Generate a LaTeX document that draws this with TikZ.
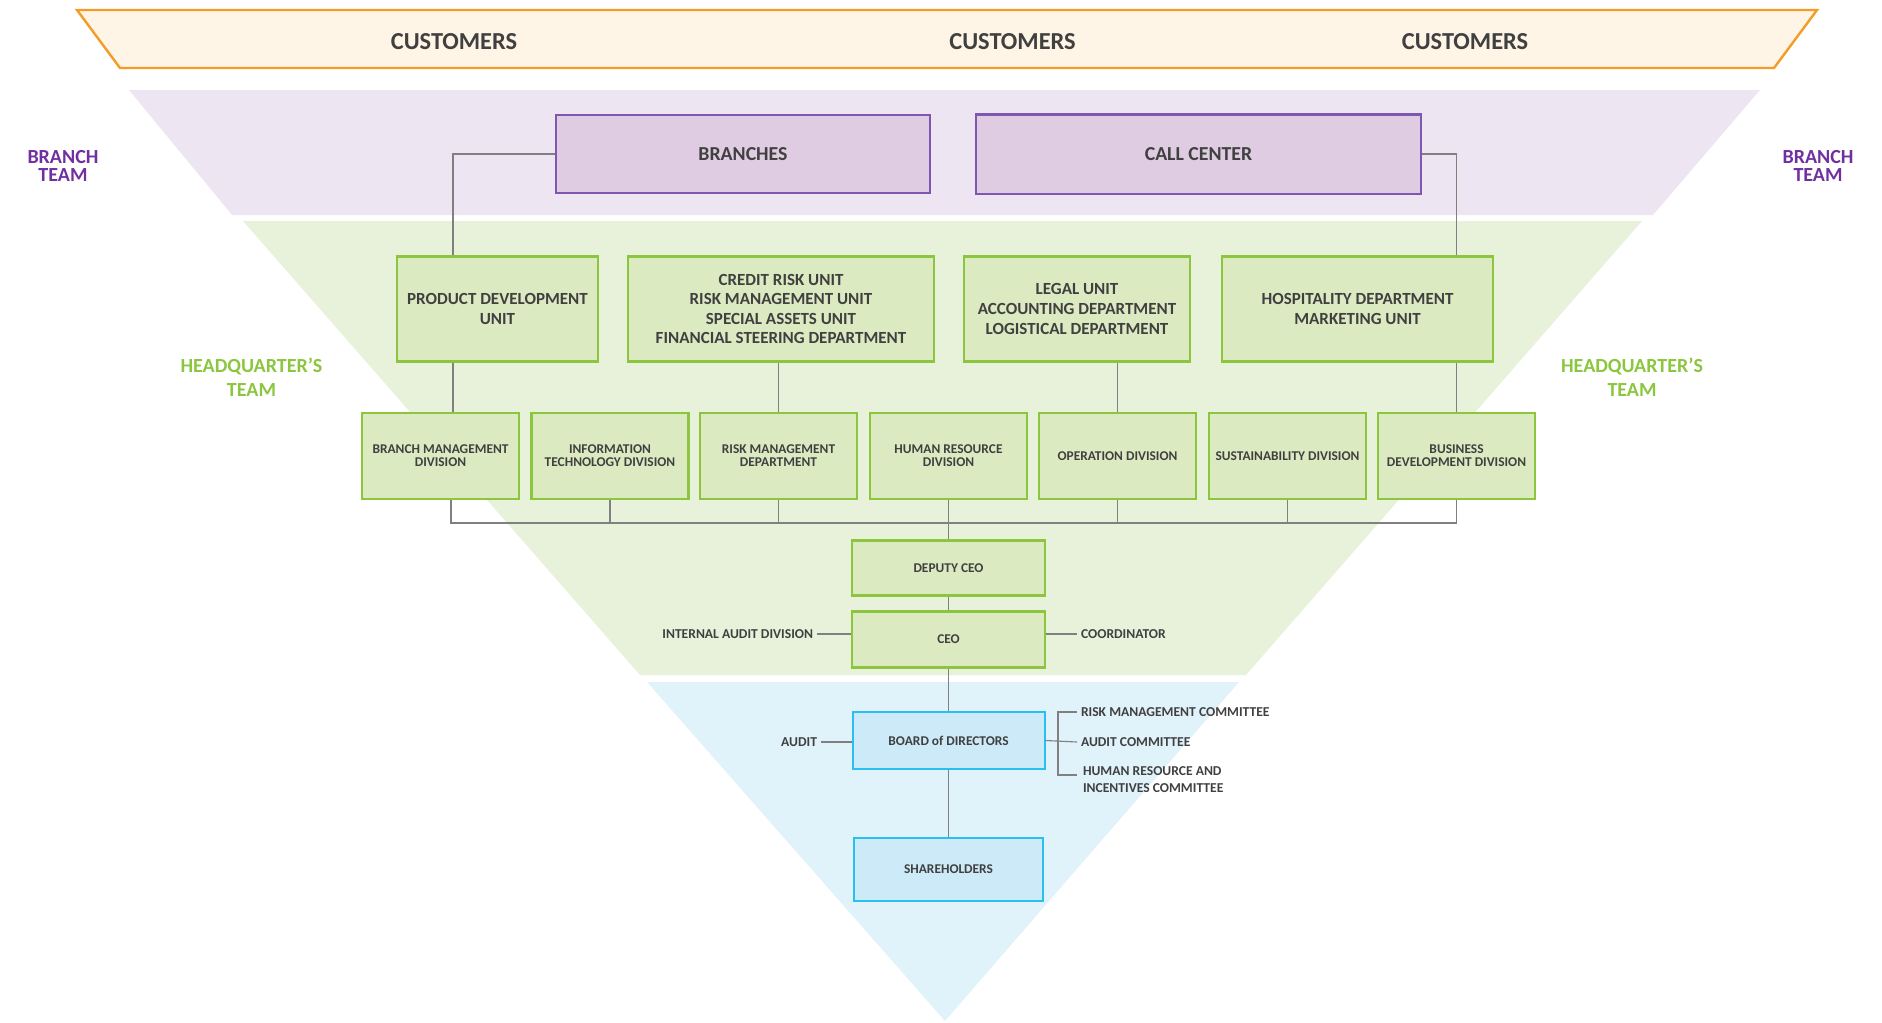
\documentclass[tikz,border=0pt]{standalone}
\usepackage{fontspec}
\setmainfont{Carlito}
\usetikzlibrary{calc}
\definecolor{oline}{HTML}{F39C28}
\definecolor{ofill}{HTML}{FEF5E7}
\definecolor{pband}{HTML}{EDE6F2}
\definecolor{pfill}{HTML}{E0CCE2}
\definecolor{pline}{HTML}{7E57B0}
\definecolor{ptext}{HTML}{7030A0}
\definecolor{gband}{HTML}{E8F2DB}
\definecolor{gfill}{HTML}{DCEAC2}
\definecolor{gline}{HTML}{8CC63E}
\definecolor{gtext}{HTML}{8CC63F}
\definecolor{bband}{HTML}{E0F2FA}
\definecolor{bfill}{HTML}{CDEAF9}
\definecolor{bline}{HTML}{27C0EF}
\definecolor{dtext}{HTML}{404040}
\definecolor{cline}{HTML}{808080}
\begin{document}
\begin{tikzpicture}[x=0.5pt,y=-0.5pt,
  every node/.style={text=dtext, font=\bfseries},
  pbox/.style={draw=pline, fill=pfill, line width=1pt, inner sep=1pt, align=center,
    font=\fontsize{9.9}{11}\selectfont\bfseries},
  gboxtwo/.style={draw=gline, fill=gfill, line width=1.2pt, inner sep=1pt, align=center,
    minimum height=52.5pt, font=\fontsize{8.5}{9.8}\selectfont\bfseries},
  gboxthree/.style={draw=gline, fill=gfill, line width=1.2pt, inner sep=1pt, align=center,
    minimum width=78.5pt, minimum height=43pt, font=\fontsize{6.7}{6.5}\selectfont\bfseries},
  gboxceo/.style={draw=gline, fill=gfill, line width=1.2pt, inner sep=1pt, align=center,
    minimum width=96.5pt, font=\fontsize{6.7}{6.5}\selectfont\bfseries},
  bbox/.style={draw=bline, fill=bfill, line width=1pt, inner sep=1pt, align=center,
    font=\fontsize{6.7}{6.5}\selectfont\bfseries},
  lbl/.style={inner sep=0pt, outer xsep=2pt, align=left, font=\fontsize{6.8}{8.6}\selectfont\bfseries},
  cust/.style={font=\fontsize{12.2}{14}\selectfont\bfseries},
  team/.style={align=center, font=\fontsize{10}{9.4}\selectfont\bfseries, text=ptext},
  hq/.style={align=center, font=\fontsize{10}{12}\selectfont\bfseries, text=gtext},
  conn/.style={draw=cline, line width=0.55pt}
]
\useasboundingbox (0,0) rectangle (1882,1022);

% bands
\filldraw[fill=ofill, draw=oline, line width=1.2pt] (77,10) -- (1817,10) -- (1774,68) -- (120,68) -- cycle;
\fill[pband] (129,90) -- (1760,90) -- (1653,215) -- (232,215) -- cycle;
\fill[gband] (243,221) -- (1642,221) -- (1246,675) -- (640,675) -- cycle;
\fill[bband] (647,682) -- (1239,682) -- (945,1021) -- cycle;

% customers
\node[cust] (cu1) at (454,41.5) {CUSTOMERS};
\node[cust] (cu2) at (1012.5,41.5) {CUSTOMERS};
\node[cust] (cu3) at (1465,41.5) {CUSTOMERS};

% side labels
\node[team] (btl) at (63,166) {BRANCH\\TEAM};
\node[team] (btr) at (1818,166) {BRANCH\\TEAM};
\node[hq] (hql) at (251.5,377) {HEADQUARTER’S\\TEAM};
\node[hq] (hqr) at (1632,377) {HEADQUARTER’S\\TEAM};

% coordinates for off-centre connectors
\coordinate (xpd) at (453,0);
\coordinate (xbm) at (451,0);
\coordinate (bus) at (0,523);

% branch team
\node[pbox, minimum width=187pt, minimum height=39pt] (br) at (743,154) {BRANCHES};
\node[pbox, minimum width=222.5pt, minimum height=39.5pt] (cc) at (1198.5,154) {CALL CENTER};

% row 2
\node[gboxtwo, minimum width=100.5pt] (pd) at (497.5,309) {PRODUCT DEVELOPMENT\\UNIT};
\node[gboxtwo, minimum width=153pt] (cr) at (781,309) {CREDIT RISK UNIT\\RISK MANAGEMENT UNIT\\SPECIAL ASSETS UNIT\\FINANCIAL STEERING DEPARTMENT};
\node[gboxtwo, minimum width=113pt] (lg) at (1077,309) {LEGAL UNIT\\ACCOUNTING DEPARTMENT\\LOGISTICAL DEPARTMENT};
\node[gboxtwo, minimum width=135.5pt] (ho) at (1357.5,309) {HOSPITALITY DEPARTMENT\\MARKETING UNIT};

% row 3
\node[gboxthree] (bm) at (440.5,456) {BRANCH MANAGEMENT\\DIVISION};
\node[gboxthree] (it) at (610,456) {INFORMATION\\TECHNOLOGY DIVISION};
\node[gboxthree] (rm) at (778.5,456) {RISK MANAGEMENT\\DEPARTMENT};
\node[gboxthree] (hr) at (948.5,456) {HUMAN RESOURCE\\DIVISION};
\node[gboxthree] (op) at (1117.5,456) {OPERATION DIVISION};
\node[gboxthree] (su) at (1287.5,456) {SUSTAINABILITY DIVISION};
\node[gboxthree] (bd) at (1456.5,456) {BUSINESS\\DEVELOPMENT DIVISION};

% CEO level
\node[gboxceo, minimum height=27.5pt] (dep) at (948.5,568) {DEPUTY CEO};
\node[gboxceo, minimum height=28pt] (ceo) at (948.5,639.5) {CEO};
\node[lbl, anchor=east] (ia) at (817,634) {INTERNAL AUDIT DIVISION};
\node[lbl, anchor=west] (co) at (1077,634) {COORDINATOR};

% board level
\node[bbox, minimum width=96pt, minimum height=28.5pt] (bod) at (948.5,740.5) {BOARD of DIRECTORS};
\node[bbox, minimum width=94.5pt, minimum height=31.5pt] (sh) at (948.5,869.5) {SHAREHOLDERS};
\node[lbl, anchor=east] (au) at (821,742) {AUDIT};
\node[lbl, anchor=west] (rmc) at (1077,712) {RISK MANAGEMENT COMMITTEE};
\node[lbl, anchor=west] (ac) at (1077,742) {AUDIT COMMITTEE};
\node[lbl, anchor=west] (hrc) at (1079,779.5) {HUMAN RESOURCE AND\\INCENTIVES COMMITTEE};
\coordinate (cb) at (1058,742);
\coordinate (hrt) at (1077,775);

% connectors: branch team to HQ
\draw[conn] (br.west) -| (xpd |- pd.north);
\draw[conn] (cc.east) -| (bd.north |- ho.north);
\draw[conn] (xpd |- pd.south) -- (xpd |- bm.north);
\draw[conn] (rm.north) -- (rm.north |- cr.south);
\draw[conn] (op.north) -- (op.north |- lg.south);
\draw[conn] (bd.north) -- (bd.north |- ho.south);

% bus
\draw[conn] (xbm |- bm.south) -- (xbm |- bus) -- (bd.south |- bus) -- (bd.south);
\draw[conn] (it.south) -- (it.south |- bus);
\draw[conn] (rm.south) -- (rm.south |- bus);
\draw[conn] (op.south) -- (op.south |- bus);
\draw[conn] (su.south) -- (su.south |- bus);
\draw[conn] (hr.south) -- (dep.north);
\draw[conn] (dep.south) -- (ceo.north);
\draw[conn] (ceo.south) -- (bod.north);
\draw[conn] (bod.south) -- (sh.north);
\draw[conn] (ia.east) -- (ceo.west |- ia.east);
\draw[conn] (ceo.east |- co.west) -- (co.west);
\draw[conn] (au.east) -- (bod.west |- au.east);
\draw[conn] (bod.east) -- (ac.west);
\draw[conn] (rmc.west) -| (cb |- hrt) -- (hrt);
\end{tikzpicture}
\end{document}
